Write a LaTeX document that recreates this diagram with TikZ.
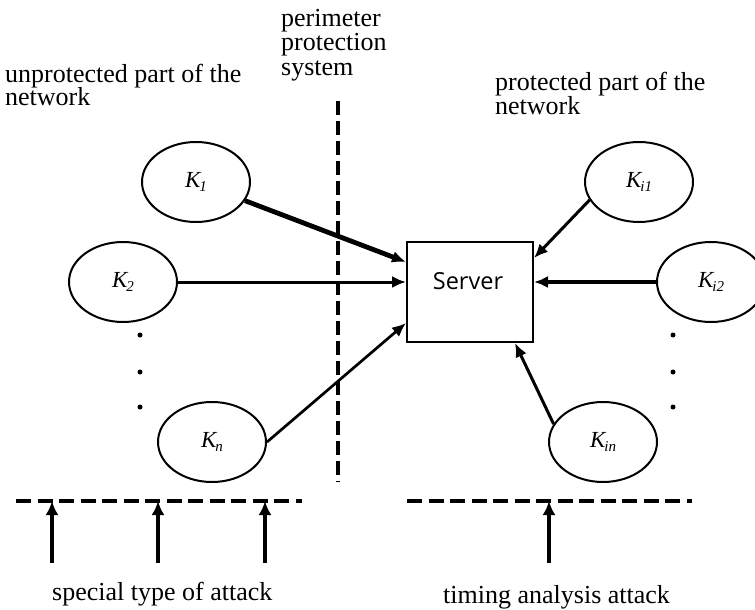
\documentclass[tikz,border=0pt]{standalone}
\usepackage{fontspec}
\setmainfont{Liberation Serif}
\newfontfamily\labelfont{Liberation Serif}
\newfontfamily\srvfont{Open Sans}
\usetikzlibrary{shapes.geometric,arrows.meta,calc}

% italic K with a small italic index
\newcommand{\kname}[1]{{\labelfont\fontsize{23}{23}\selectfont\itshape K\kern-1pt\raisebox{-3.5pt}{\fontsize{15}{15}\selectfont #1}}}

\tikzset{
  lbl/.style={anchor=base west, inner sep=0pt, font=\fontsize{26}{26}\selectfont},
  knode/.style={ellipse, draw, line width=2pt, minimum width=108pt, minimum height=80pt, inner sep=0pt},
  srvbox/.style={draw, line width=2pt, minimum width=126pt, minimum height=100pt, inner sep=0pt},
  conn/.style={line width=3pt, -{Latex[length=14pt,width=12pt]}},
  attack/.style={line width=3.2pt, -{Latex[length=14pt,width=13pt]}},
  border/.style={line width=4pt, dash pattern=on 15pt off 6.5pt},
  vborder/.style={line width=3.5pt, dash pattern=on 14pt off 6pt},
  dotn/.style={circle, fill, inner sep=0pt, minimum size=5pt}
}

\begin{document}
\begin{tikzpicture}[x=1pt, y=-1pt]
\useasboundingbox (0,0) rectangle (755,610);
\clip (0,0) rectangle (755,610);

% region captions
\node[lbl] (t1) at (5,82) {unprotected part of the};
\node[lbl] (t2) at (5,106) {network};
\node[lbl] (t3) at (281,27) {perimeter};
\node[lbl] (t4) at (281,51) {protection};
\node[lbl] (t5) at (281,75) {system};
\node[lbl] (t6) at (495,90) {protected part of the};
\node[lbl] (t7) at (495,114) {network};
\node[lbl] (t8) at (52,600) {special type of attack};
\node[lbl] (t9) at (443,603) {timing analysis attack};

% perimeter boundary
\coordinate (pt) at (338,101);
\coordinate (pb) at (338,482);
\draw[vborder] (pt) -- (pb);

% clients
\node[knode] (K1) at (196,182) {\kname{1}};
\node[knode] (K2) at (123,282) {\kname{2}};
\node[knode] (Kn) at (212,442) {\kname{n}};
\node[knode] (Ki1) at (639,182) {\kname{i1}};
\node[knode] (Ki2) at (711,282) {\kname{i2}};
\node[knode] (Kin) at (603,442) {\kname{in}};

% ellipsis dots
\node[dotn] (dl1) at (140,335) {};
\node[dotn] (dl2) at (140,372) {};
\node[dotn] (dl3) at (140,407) {};
\node[dotn] (dr1) at (673,335) {};
\node[dotn] (dr2) at (673,372) {};
\node[dotn] (dr3) at (673,407) {};

% server
\node[srvbox] (srv) at (470,292) {};
\node[inner sep=0pt, font=\srvfont\fontsize{23.5}{24}\selectfont] (srvt) at (468,281) {Server};

% connections to the server
\draw[conn, line width=4.8pt] (K1) -- ($(srv.west)+(0,-30)$);
\draw[conn] (K2) -- ($(srv.west)+(0,-10)$);
\draw[conn, line width=2.7pt] (Kn.east) -- ($(srv.west)+(0,31)$);
\draw[conn] (Ki1.200) -- ($(srv.east)+(0,-34)$);
\draw[conn, line width=3.3pt] (Ki2) -- ($(srv.east)+(0,-10)$);
\draw[conn] (Kin.160) -- ($(srv.south)+(45,0)$);

% attack boundaries
\coordinate (hl1) at (16,501);
\coordinate (hl2) at (302,501);
\coordinate (hr1) at (407,501);
\coordinate (hr2) at (692,501);
\draw[border] (hl1) -- (hl2);
\draw[border] (hr1) -- (hr2);

% attacks
\coordinate (a1s) at (52,563);  \coordinate (a1e) at (52,501);
\coordinate (a2s) at (158,563); \coordinate (a2e) at (158,501);
\coordinate (a3s) at (265,563); \coordinate (a3e) at (265,501);
\coordinate (a4s) at (549,563); \coordinate (a4e) at (549,501);
\draw[attack] (a1s) -- (a1e);
\draw[attack] (a2s) -- (a2e);
\draw[attack] (a3s) -- (a3e);
\draw[attack] (a4s) -- (a4e);
\end{tikzpicture}
\end{document}
